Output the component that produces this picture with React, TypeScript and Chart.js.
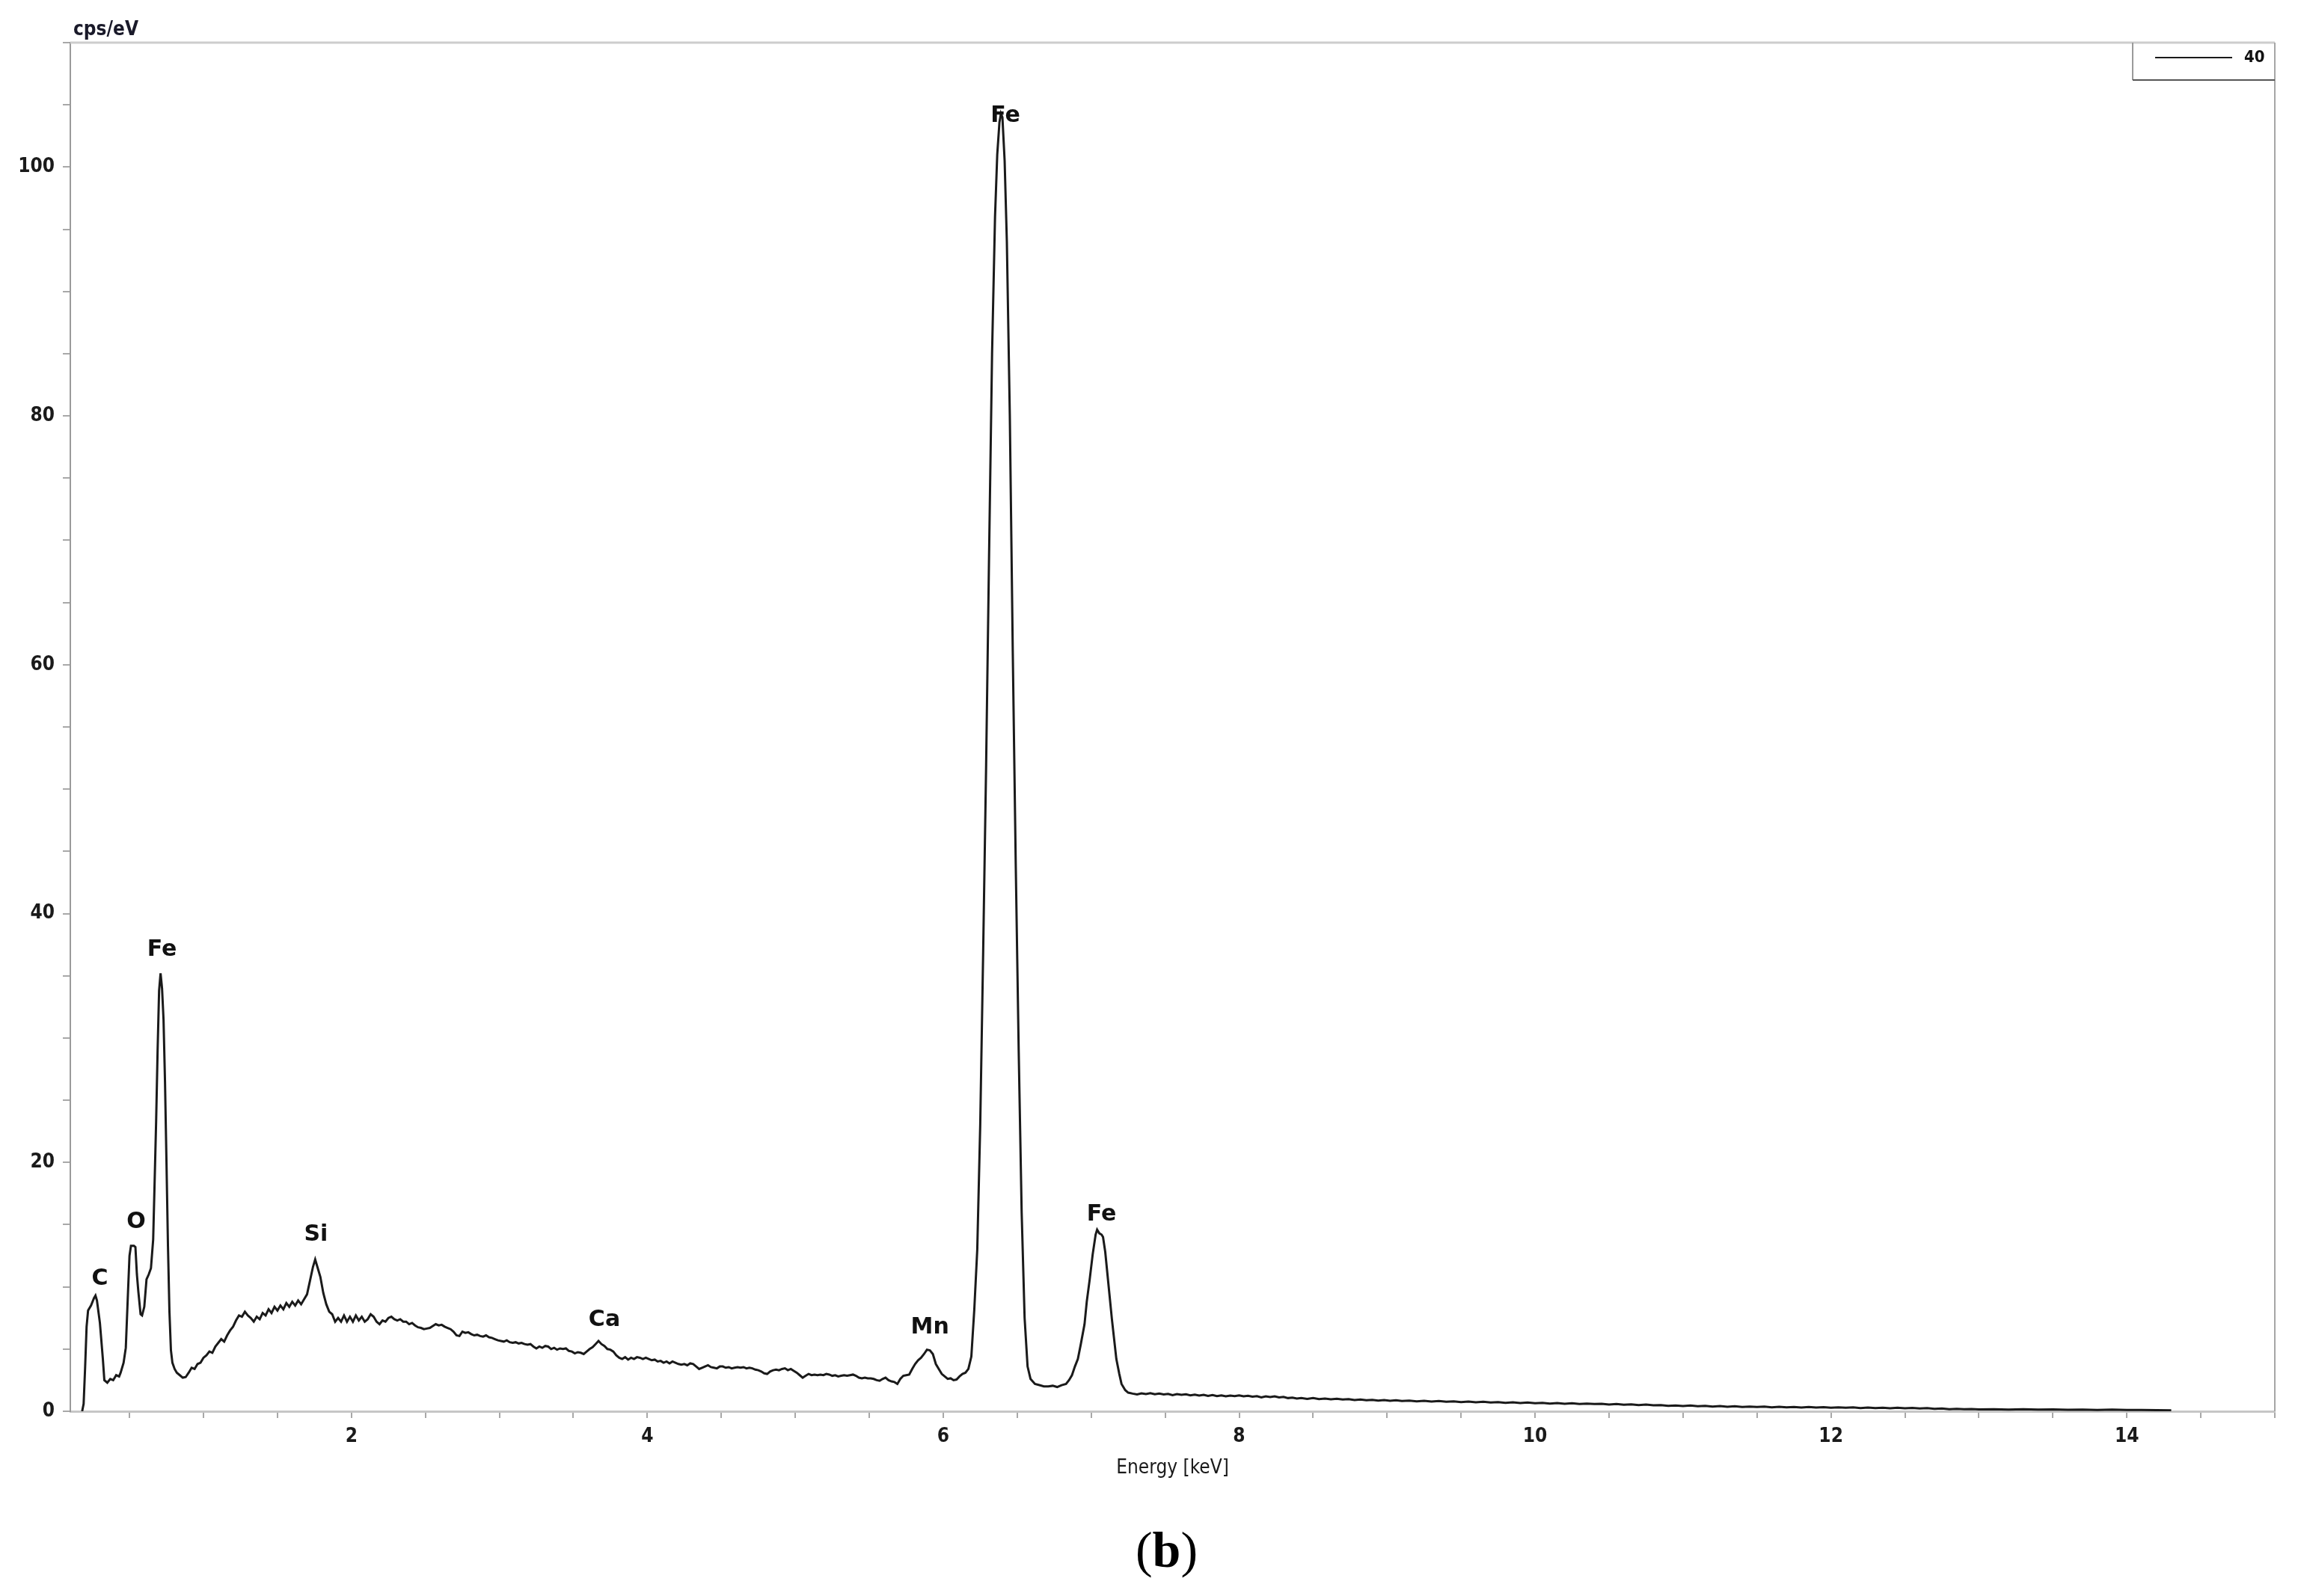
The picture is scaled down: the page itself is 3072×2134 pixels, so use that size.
import React, { useEffect, useRef } from 'react';
import { Chart, registerables } from 'chart.js';

Chart.register(...registerables);

// ---- Data (energy keV, cps/eV) ----
const SERIES_LABEL = '40';

const lowEnergyPeaks: [number, number][] = [
  [0.18, 0], [0.19, 0.6], [0.20, 3.5], [0.21, 6.8], [0.22, 8.1], [0.24, 8.5], [0.26, 9.1], [0.27, 9.3],
  [0.28, 8.9], [0.30, 7.1], [0.32, 4.2], [0.33, 2.5], [0.35, 2.3], [0.37, 2.6], [0.39, 2.5], [0.41, 2.9],
  [0.43, 2.8], [0.44, 3.1], [0.46, 3.9], [0.475, 5.1], [0.49, 9.6], [0.50, 12.5], [0.51, 13.3], [0.53, 13.3],
  [0.54, 13.2], [0.55, 11.0], [0.56, 9.6], [0.575, 7.8], [0.585, 7.7], [0.60, 8.4], [0.615, 10.6], [0.63, 11.0],
  [0.645, 11.5], [0.66, 13.8], [0.67, 18.5], [0.68, 23.3], [0.69, 29.0], [0.70, 33.8], [0.71, 35.2], [0.72, 34.0],
  [0.73, 31.5], [0.74, 26.5], [0.75, 20.0], [0.76, 13.3], [0.77, 8.0], [0.78, 4.9], [0.79, 3.9], [0.805, 3.4],
  [0.82, 3.1], [0.84, 2.9], [0.86, 2.7], [0.88, 2.75], [0.90, 3.1], [0.92, 3.5], [0.94, 3.4], [0.96, 3.8],
  [0.98, 3.9], [1.00, 4.3],
];

const continuum: [number, number][] = [
  [1.02, 4.5], [1.04, 4.8], [1.06, 4.7], [1.08, 5.2], [1.10, 5.5], [1.12, 5.8], [1.14, 5.6], [1.16, 6.1],
  [1.18, 6.5], [1.20, 6.8], [1.22, 7.3], [1.24, 7.7], [1.26, 7.6], [1.28, 8.0], [1.30, 7.7], [1.32, 7.5],
  [1.34, 7.2], [1.36, 7.6], [1.38, 7.4], [1.40, 7.9], [1.42, 7.7], [1.44, 8.2], [1.46, 7.9], [1.48, 8.4],
  [1.50, 8.1], [1.52, 8.5], [1.54, 8.2], [1.56, 8.7], [1.58, 8.4], [1.60, 8.8], [1.62, 8.5], [1.64, 8.9],
  [1.66, 8.6], [1.68, 9.0], [1.70, 9.4], [1.72, 10.5], [1.74, 11.6], [1.755, 12.2], [1.77, 11.6], [1.79, 10.8],
  [1.81, 9.5], [1.83, 8.6], [1.85, 8.0], [1.87, 7.8], [1.89, 7.2], [1.91, 7.5], [1.93, 7.2], [1.95, 7.7],
  [1.97, 7.2], [1.99, 7.6], [2.01, 7.2], [2.03, 7.7], [2.05, 7.3], [2.07, 7.6], [2.09, 7.2], [2.11, 7.4],
  [2.13, 7.8], [2.15, 7.6], [2.17, 7.2], [2.19, 7.0], [2.21, 7.3], [2.23, 7.2], [2.25, 7.5], [2.27, 7.6],
  [2.29, 7.4], [2.31, 7.3], [2.33, 7.4], [2.35, 7.2], [2.37, 7.2], [2.39, 7.0], [2.41, 7.1], [2.43, 6.9],
  [2.45, 6.75], [2.47, 6.7], [2.49, 6.6], [2.51, 6.65], [2.53, 6.7], [2.55, 6.85], [2.57, 7.0], [2.59, 6.9],
  [2.61, 6.95], [2.63, 6.8], [2.65, 6.7], [2.67, 6.6], [2.69, 6.4], [2.71, 6.1], [2.73, 6.05], [2.75, 6.4],
  [2.77, 6.3], [2.79, 6.35], [2.81, 6.2], [2.83, 6.1], [2.85, 6.15], [2.87, 6.05], [2.89, 6.0], [2.91, 6.1],
  [2.93, 5.95], [2.95, 5.9], [2.97, 5.8], [2.99, 5.7], [3.01, 5.65], [3.03, 5.6], [3.05, 5.7], [3.07, 5.55],
  [3.09, 5.5], [3.11, 5.55], [3.13, 5.45], [3.15, 5.5], [3.17, 5.4], [3.19, 5.35], [3.21, 5.4], [3.23, 5.2],
  [3.25, 5.05], [3.27, 5.2], [3.29, 5.1], [3.31, 5.25], [3.33, 5.2], [3.35, 5.0], [3.37, 5.1], [3.39, 4.95],
  [3.41, 5.05], [3.43, 5.0], [3.45, 5.05], [3.47, 4.85], [3.49, 4.8], [3.51, 4.65], [3.53, 4.75], [3.55, 4.7],
  [3.57, 4.6], [3.59, 4.8], [3.61, 5.0], [3.63, 5.15], [3.65, 5.4], [3.67, 5.65], [3.69, 5.4], [3.71, 5.25],
  [3.73, 5.0], [3.75, 4.95], [3.77, 4.8], [3.79, 4.5], [3.81, 4.3], [3.83, 4.2], [3.85, 4.35], [3.87, 4.15],
  [3.89, 4.3], [3.91, 4.2], [3.93, 4.35], [3.95, 4.3], [3.97, 4.2], [3.99, 4.3], [4.01, 4.2], [4.03, 4.1],
  [4.05, 4.15], [4.07, 4.0], [4.09, 4.05], [4.11, 3.9], [4.13, 4.0], [4.15, 3.85], [4.17, 4.0], [4.19, 3.9],
  [4.21, 3.8], [4.23, 3.75], [4.25, 3.8], [4.27, 3.7], [4.29, 3.85], [4.31, 3.8], [4.33, 3.6], [4.35, 3.4],
  [4.37, 3.5], [4.39, 3.6], [4.41, 3.7], [4.43, 3.55], [4.45, 3.5], [4.47, 3.45], [4.49, 3.6], [4.51, 3.6],
  [4.53, 3.5], [4.55, 3.55], [4.57, 3.45], [4.59, 3.5], [4.61, 3.55], [4.63, 3.5], [4.65, 3.55], [4.67, 3.45],
  [4.69, 3.5], [4.71, 3.45], [4.73, 3.35], [4.75, 3.3], [4.77, 3.2], [4.79, 3.05], [4.81, 3.0], [4.83, 3.2],
  [4.85, 3.3], [4.87, 3.35], [4.89, 3.3], [4.91, 3.4], [4.93, 3.45], [4.95, 3.3], [4.97, 3.4], [4.99, 3.25],
  [5.01, 3.1], [5.03, 2.9], [5.05, 2.7], [5.07, 2.85], [5.09, 3.0], [5.11, 2.9], [5.13, 2.95], [5.15, 2.9],
  [5.17, 2.95], [5.19, 2.9], [5.21, 3.0], [5.23, 2.95], [5.25, 2.85], [5.27, 2.9], [5.29, 2.8], [5.31, 2.85],
  [5.33, 2.9], [5.35, 2.85], [5.37, 2.9], [5.39, 2.95], [5.41, 2.85], [5.43, 2.7], [5.45, 2.65], [5.47, 2.7],
  [5.49, 2.65], [5.51, 2.65], [5.53, 2.6], [5.55, 2.5], [5.57, 2.45], [5.59, 2.6], [5.61, 2.7], [5.63, 2.5],
  [5.65, 2.4], [5.67, 2.35], [5.69, 2.2], [5.71, 2.6], [5.73, 2.85], [5.75, 2.9], [5.77, 2.95], [5.79, 3.4],
  [5.81, 3.8], [5.83, 4.1], [5.85, 4.3], [5.87, 4.6], [5.89, 4.95], [5.91, 4.9], [5.93, 4.6], [5.95, 3.8],
  [5.97, 3.4], [5.99, 3.0], [6.01, 2.8], [6.03, 2.6], [6.05, 2.65], [6.07, 2.5], [6.09, 2.55], [6.11, 2.8],
  [6.13, 3.0], [6.15, 3.1], [6.17, 3.4],
];

const feKPeaks: [number, number][] = [
  [6.19, 4.4], [6.21, 8.2], [6.23, 13], [6.25, 23], [6.27, 37], [6.29, 52], [6.31, 69], [6.33, 85],
  [6.35, 96], [6.365, 101], [6.38, 103.6], [6.39, 104.3], [6.40, 104.0], [6.415, 100.5], [6.43, 94], [6.45, 80],
  [6.47, 61], [6.49, 44], [6.51, 29], [6.53, 16], [6.55, 7.5], [6.57, 3.6], [6.59, 2.6], [6.62, 2.2],
  [6.65, 2.1], [6.68, 2.0], [6.71, 2.0], [6.74, 2.05], [6.77, 1.95], [6.80, 2.1], [6.83, 2.2], [6.85, 2.5],
  [6.87, 2.9], [6.89, 3.6], [6.91, 4.2], [6.93, 5.4], [6.955, 7.0], [6.97, 8.8], [6.99, 10.6], [7.01, 12.6],
  [7.03, 14.2], [7.04, 14.6], [7.055, 14.3], [7.07, 14.2], [7.08, 14.0], [7.095, 12.8], [7.11, 11.0], [7.125, 9.2],
  [7.14, 7.4], [7.155, 5.8], [7.17, 4.2], [7.19, 3.0], [7.205, 2.2], [7.23, 1.7], [7.25, 1.5],
];

const tail: [number, number][] = [
  [7.28, 1.42], [7.31, 1.36], [7.34, 1.44], [7.37, 1.38], [7.40, 1.45], [7.43, 1.37], [7.46, 1.42], [7.49, 1.36],
  [7.52, 1.40], [7.55, 1.30], [7.58, 1.38], [7.61, 1.32], [7.64, 1.36], [7.67, 1.28], [7.70, 1.34], [7.73, 1.26],
  [7.76, 1.32], [7.79, 1.24], [7.82, 1.30], [7.85, 1.22], [7.88, 1.28], [7.91, 1.20], [7.94, 1.26], [7.97, 1.22],
  [8.00, 1.28], [8.03, 1.20], [8.06, 1.25], [8.09, 1.18], [8.12, 1.22], [8.15, 1.12], [8.18, 1.20], [8.21, 1.14],
  [8.24, 1.20], [8.27, 1.12], [8.30, 1.16], [8.33, 1.06], [8.36, 1.10], [8.39, 1.02], [8.42, 1.06], [8.46, 1.00],
  [8.50, 1.06], [8.54, 0.98], [8.58, 1.02], [8.62, 0.96], [8.66, 1.00], [8.70, 0.94], [8.74, 0.98], [8.78, 0.90],
  [8.82, 0.94], [8.86, 0.88], [8.90, 0.92], [8.94, 0.86], [8.98, 0.90], [9.02, 0.84], [9.06, 0.88], [9.10, 0.82],
  [9.15, 0.86], [9.20, 0.80], [9.25, 0.84], [9.30, 0.78], [9.35, 0.82], [9.40, 0.76], [9.45, 0.80], [9.50, 0.74],
  [9.55, 0.78], [9.60, 0.72], [9.65, 0.76], [9.70, 0.70], [9.75, 0.74], [9.80, 0.68], [9.85, 0.72], [9.90, 0.66],
  [9.95, 0.70], [10.00, 0.64], [10.05, 0.68], [10.10, 0.62], [10.15, 0.66], [10.20, 0.60], [10.25, 0.64], [10.30, 0.58],
  [10.35, 0.62], [10.40, 0.58], [10.45, 0.60], [10.50, 0.54], [10.55, 0.58], [10.60, 0.52], [10.65, 0.56], [10.70, 0.50],
  [10.75, 0.54], [10.80, 0.48], [10.85, 0.50], [10.90, 0.44], [10.95, 0.46], [11.00, 0.42], [11.05, 0.46], [11.10, 0.40],
  [11.15, 0.44], [11.20, 0.38], [11.25, 0.42], [11.30, 0.36], [11.35, 0.40], [11.40, 0.34], [11.45, 0.38], [11.50, 0.34],
  [11.55, 0.37], [11.60, 0.32], [11.65, 0.36], [11.70, 0.32], [11.75, 0.35], [11.80, 0.30], [11.85, 0.34], [11.90, 0.30],
  [11.95, 0.33], [12.00, 0.28], [12.05, 0.32], [12.10, 0.28], [12.15, 0.31], [12.20, 0.26], [12.25, 0.30], [12.30, 0.26],
  [12.35, 0.29], [12.40, 0.24], [12.45, 0.28], [12.50, 0.24], [12.55, 0.27], [12.60, 0.22], [12.65, 0.25], [12.70, 0.20],
  [12.75, 0.22], [12.80, 0.17], [12.85, 0.19], [12.90, 0.16], [12.95, 0.18], [13.00, 0.15], [13.10, 0.17], [13.20, 0.14],
  [13.30, 0.16], [13.40, 0.13], [13.50, 0.15], [13.60, 0.12], [13.70, 0.14], [13.80, 0.11], [13.90, 0.13], [14.00, 0.10],
  [14.10, 0.11], [14.20, 0.09], [14.30, 0.08],
];

// Peak annotations: element, energy (keV), label height (cps/eV)
const peakElements = ['C', 'O', 'Fe', 'Si', 'Ca', 'Mn', 'Fe', 'Fe'];
const peakEnergies = [0.30, 0.545, 0.72, 1.76, 3.71, 5.91, 6.42, 7.07];
const peakLabelLevels = [10.6, 15.2, 37.1, 14.2, 7.3, 6.7, 104.1, 15.8];

// Axis ticks
const xTickValues = [0.5, 1, 1.5, 2, 2.5, 3, 3.5, 4, 4.5, 5, 5.5, 6, 6.5, 7, 7.5, 8, 8.5, 9, 9.5, 10, 10.5, 11, 11.5, 12, 12.5, 13, 13.5, 14, 14.5, 15];
const xTickLabels = [2, 4, 6, 8, 10, 12, 14];
const yTickValues = [0, 5, 10, 15, 20, 25, 30, 35, 40, 45, 50, 55, 60, 65, 70, 75, 80, 85, 90, 95, 100, 105, 110];
const yTickLabels = [0, 20, 40, 60, 80, 100];

const X_TITLE = 'Energy [keV]';
const Y_UNIT = 'cps/eV';
const CAPTION = 'b';

const SANS_COND = '"DejaVu Sans Condensed", "Liberation Sans Narrow", "DejaVu Sans", sans-serif';
const SANS = '"DejaVu Sans", "Liberation Sans", sans-serif';
const SERIF = '"Liberation Serif", "DejaVu Serif", serif';

const decorPlugin = {
  id: 'decor',
  afterDraw(chart: any) {
    const { ctx, chartArea: ca, scales } = chart;
    const x = scales.x;
    const y = scales.y;
    ctx.save();

    // top and right frame lines
    ctx.strokeStyle = '#cdcdcd';
    ctx.lineWidth = 3;
    ctx.beginPath();
    ctx.moveTo(ca.left, ca.top);
    ctx.lineTo(ca.right, ca.top);
    ctx.stroke();
    ctx.strokeStyle = '#a6a6a6';
    ctx.lineWidth = 2;
    ctx.beginPath();
    ctx.moveTo(ca.right, ca.top);
    ctx.lineTo(ca.right, ca.bottom);
    ctx.stroke();

    // peak labels
    ctx.fillStyle = '#111';
    ctx.font = `bold 30px ${SANS}`;
    ctx.textAlign = 'center';
    ctx.textBaseline = 'middle';
    peakElements.forEach((el, i) => {
      ctx.fillText(el, x.getPixelForValue(peakEnergies[i]), y.getPixelForValue(peakLabelLevels[i]));
    });

    // y unit
    ctx.font = `bold 26px ${SANS_COND}`;
    ctx.textAlign = 'left';
    ctx.textBaseline = 'alphabetic';
    ctx.fillStyle = '#1a1a2a';
    ctx.fillText(Y_UNIT, ca.left + 4, ca.top - 10);

    // x title
    ctx.font = `26px ${SANS_COND}`;
    ctx.textAlign = 'center';
    ctx.textBaseline = 'middle';
    ctx.fillStyle = '#1a1a1a';
    ctx.fillText(X_TITLE, (ca.left + ca.right) / 2, ca.bottom + 76);

    // legend box
    const bx0 = ca.right - 190;
    const bx1 = ca.right;
    const by0 = ca.top;
    const by1 = ca.top + 50;
    ctx.strokeStyle = '#9a9a9a';
    ctx.lineWidth = 2;
    ctx.beginPath();
    ctx.moveTo(bx0, by0);
    ctx.lineTo(bx0, by1);
    ctx.stroke();
    ctx.strokeStyle = '#555';
    ctx.lineWidth = 2;
    ctx.beginPath();
    ctx.moveTo(bx0, by1);
    ctx.lineTo(bx1, by1);
    ctx.stroke();
    const ds = chart.data.datasets[0];
    ctx.strokeStyle = ds.borderColor;
    ctx.lineWidth = 2;
    ctx.beginPath();
    ctx.moveTo(bx0 + 30, by0 + 20);
    ctx.lineTo(bx0 + 133, by0 + 20);
    ctx.stroke();
    ctx.font = `bold 22px ${SANS_COND}`;
    ctx.textAlign = 'left';
    ctx.textBaseline = 'middle';
    ctx.fillStyle = '#111';
    ctx.fillText(ds.label, bx0 + 149, by0 + 20);

    // caption (b)
    const cx = (ca.left + ca.right) / 2 - 8;
    const cy = ca.bottom + 190;
    ctx.textBaseline = 'middle';
    ctx.fillStyle = '#000';
    ctx.font = `68px ${SERIF}`;
    const wOpen = ctx.measureText('(').width;
    const wClose = ctx.measureText(')').width;
    ctx.font = `bold 68px ${SERIF}`;
    const wB = ctx.measureText(CAPTION).width;
    let px = cx - (wOpen + wB + wClose) / 2;
    ctx.textAlign = 'left';
    ctx.font = `68px ${SERIF}`;
    ctx.fillText('(', px, cy);
    px += wOpen;
    ctx.font = `bold 68px ${SERIF}`;
    ctx.fillText(CAPTION, px, cy);
    px += wB;
    ctx.font = `68px ${SERIF}`;
    ctx.fillText(')', px, cy);

    ctx.restore();
  },
};

export default function App() {
  const canvasRef = useRef<HTMLCanvasElement | null>(null);

  useEffect(() => {
    const canvas = canvasRef.current;
    if (!canvas) return;
    const points = [...lowEnergyPeaks, ...continuum, ...feKPeaks, ...tail].map(([e, c]) => ({ x: e, y: c }));

    const chart = new Chart(canvas, {
      type: 'line',
      data: {
        datasets: [
          {
            label: SERIES_LABEL,
            data: points,
            borderColor: '#1a1a1a',
            borderWidth: 3,
            pointRadius: 0,
            tension: 0,
            fill: false,
          },
        ],
      },
      options: {
        responsive: false,
        animation: false,
        events: [],
        layout: { padding: { left: 0, top: 57, right: 31, bottom: 0 } },
        plugins: {
          legend: { display: false },
          tooltip: { enabled: false },
          title: { display: false },
        },
        scales: {
          x: {
            type: 'linear',
            min: 0.1,
            max: 15,
            afterFit: (scale: any) => {
              scale.height = 247;
            },
            afterBuildTicks: (axis: any) => {
              axis.ticks = xTickValues.map((v) => ({ value: v }));
            },
            ticks: {
              autoSkip: false,
              maxRotation: 0,
              padding: 10,
              color: '#1a1a1a',
              font: { family: SANS_COND, size: 26, weight: 'bold' },
              callback: (v: any) => (xTickLabels.includes(Number(v)) ? String(v) : ''),
            },
            grid: {
              display: true,
              drawOnChartArea: false,
              drawTicks: true,
              tickLength: 9,
              color: '#a8a8a8',
              lineWidth: 2,
            },
            border: { display: true, color: '#c6c6c6', width: 3 },
          },
          y: {
            type: 'linear',
            min: 0,
            max: 110,
            afterFit: (scale: any) => {
              scale.width = 94;
            },
            afterBuildTicks: (axis: any) => {
              axis.ticks = yTickValues.map((v) => ({ value: v }));
            },
            ticks: {
              autoSkip: false,
              padding: 11,
              color: '#1a1a1a',
              font: { family: SANS_COND, size: 26, weight: 'bold' },
              callback: (v: any) => (yTickLabels.includes(Number(v)) ? String(v) : ''),
            },
            grid: {
              display: true,
              drawOnChartArea: false,
              drawTicks: true,
              tickLength: 10,
              color: '#a8a8a8',
              lineWidth: 2,
            },
            border: { display: true, color: '#9a9a9a', width: 2 },
          },
        },
      },
      plugins: [decorPlugin],
    });

    return () => {
      chart.destroy();
    };
  }, []);

  return (
    <div style={{ position: 'absolute', left: 0, top: 0, width: 3072, height: 2134, background: '#fff' }}>
      <canvas ref={canvasRef} width={3072} height={2134} style={{ width: 3072, height: 2134, display: 'block' }} />
    </div>
  );
}
